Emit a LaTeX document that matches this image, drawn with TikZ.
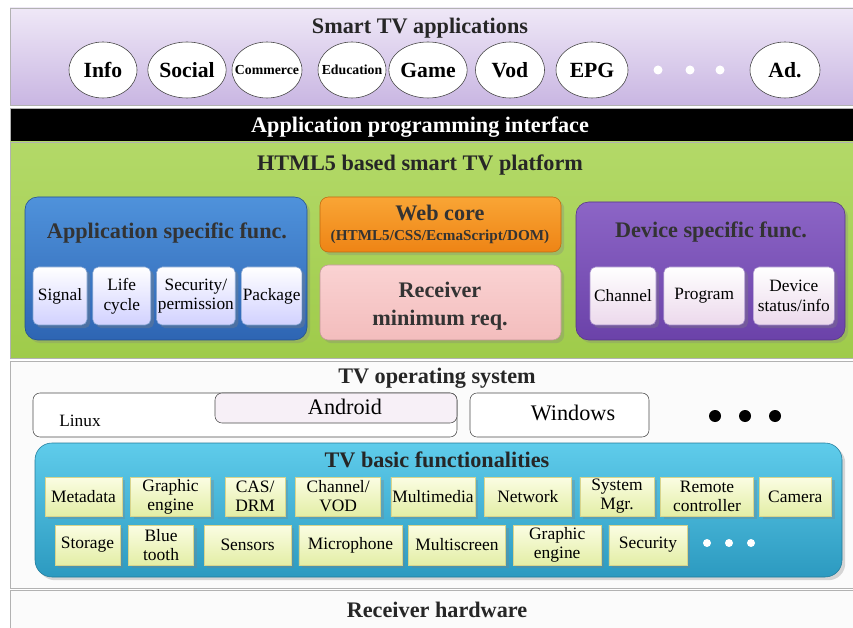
\documentclass[tikz,border=0pt]{standalone}
\usepackage{fontspec}
\setmainfont{Liberation Serif}
\usetikzlibrary{positioning, shapes.geometric, shadows}

\definecolor{appTop}{HTML}{EFE8F7}
\definecolor{appBot}{HTML}{C9B6E2}
\definecolor{platTop}{HTML}{B3D968}
\definecolor{platBot}{HTML}{9FCB4A}
\definecolor{blueTop}{HTML}{4F92DB}
\definecolor{blueBot}{HTML}{2E65B3}
\definecolor{orgTop}{HTML}{F9A535}
\definecolor{orgBot}{HTML}{EE8415}
\definecolor{pinkTop}{HTML}{FAD2D2}
\definecolor{pinkBot}{HTML}{F3BDBD}
\definecolor{violTop}{HTML}{8C65C6}
\definecolor{violBot}{HTML}{6B42A9}
\definecolor{cyanTop}{HTML}{5FCCEB}
\definecolor{cyanBot}{HTML}{2C9AC0}
\definecolor{ylwTop}{HTML}{FBFDE3}
\definecolor{ylwBot}{HTML}{E3EEA6}

\begin{document}
\begin{tikzpicture}[
  x=0.025cm, y=-0.025cm,
  sz/.style 2 args={minimum width=#1*0.025cm, minimum height=#2*0.025cm},
  band/.style={draw=gray!60, rectangle, inner sep=0pt},
  heading/.style={font=\fontsize{15.8}{18}\selectfont\bfseries, text=black!85, align=center},
  app/.style={draw=black!75, ellipse, fill=white, inner sep=0pt,
              font=\fontsize{15.4}{17}\selectfont\bfseries},
  smallapp/.style={app, inner xsep=-7pt, font=\fontsize{9.8}{11}\selectfont\bfseries},
  group/.style={rectangle, rounded corners=9pt, inner sep=0pt},
  subbox/.style={draw=#1, rectangle, rounded corners=4pt, align=center,
                 inner sep=1pt, font=\fontsize{12.3}{14}\selectfont,
                 drop shadow={opacity=0.35}},
  basic/.style={draw=olive!35, rectangle, top color=ylwTop, bottom color=ylwBot,
                align=center, inner sep=1pt, font=\fontsize{12.4}{13.5}\selectfont,
                drop shadow={opacity=0.3}},
  osbox/.style={draw=black!70, rectangle, rounded corners=5pt, inner sep=0pt},
  wdot/.style={circle, fill=white, minimum size=9*0.025cm, inner sep=0pt},
  bdot/.style={circle, fill=black, minimum size=12*0.025cm, inner sep=0pt},
]
  \useasboundingbox (0,0) rectangle (853,628);
  \clip (0,0) rectangle (853,628);

  % applications layer
  \node[band, sz={845}{97}, top color=appTop, bottom color=appBot] (apps) at (432.5,56.5) {};
  \node[heading] (appstitle) at (420,28) {Smart TV applications};
  \node[app, sz={68}{56}] (info) at (103,70) {Info};
  \node[app, sz={63}{56}] (social) at (187,70) {Social};
  \node[smallapp, sz={70}{56}] (commerce) at (267,70) {Commerce};
  \node[smallapp, sz={68}{56}] (education) at (352,70) {Education};
  \node[app, sz={69}{56}] (game) at (428,70) {Game};
  \node[app, sz={69}{56}] (vod) at (510,70) {Vod};
  \node[app, sz={72}{56}] (epg) at (592,70) {EPG};
  \foreach \x [count=\i] in {658,690,720}
    \node[wdot] (adot\i) at (\x,70) {};
  \node[app, sz={70}{56}] (ad) at (785,70) {Ad.};

  % API
  \node[band, sz={845}{34}, fill=black] (api) at (432.5,125) {};
  \node[heading, text=white] (apitext) at (420,127) {Application programming interface};

  % HTML5 platform
  \node[band, sz={845}{216}, top color=platTop, bottom color=platBot] (plat) at (432.5,250) {};
  \node[heading] (plattitle) at (420,165) {HTML5 based smart TV platform};

  \node[group, sz={282}{143}, draw=blueBot!80!black, top color=blueTop, bottom color=blueBot,
        drop shadow={opacity=0.3}] (appfunc) at (166,268.5) {};
  \node[heading, text=black!80] (appfunctitle) at (167,233) {Application specific func.};
  \node[subbox=blueBot!60, top color=white, bottom color=blue!18, sz={54}{58}] (signal) at (60,296) {Signal};
  \node[subbox=blueBot!60, top color=white, bottom color=blue!18, sz={58}{58}, right=0.13cm of signal] (life) {Life\\cycle};
  \node[subbox=blueBot!60, top color=white, bottom color=blue!18, sz={78}{58}, right=0.13cm of life] (secperm) {Security/\\permission};
  \node[subbox=blueBot!60, top color=white, bottom color=blue!18, sz={58}{58}, right=0.14cm of secperm] (package) {Package};

  \node[group, rounded corners=6pt, sz={241}{55}, draw=orgBot!80!black, top color=orgTop, bottom color=orgBot,
        drop shadow={opacity=0.3}] (webcore) at (440.5,224.5) {};
  \node[heading, text=black!80] (webtitle) at (440,213) {Web core};
  \node[font=\fontsize{10.8}{12}\selectfont\bfseries, text=black!80] (websub) at (440,237) {(HTML5/CSS/EcmaScript/DOM)};

  \node[group, rounded corners=6pt, sz={241}{75}, draw=pinkBot!80!black, top color=pinkTop, bottom color=pinkBot,
        drop shadow={opacity=0.3}] (recv) at (440.5,302.5) {};
  \node[heading, text=black!80, font=\fontsize{15.8}{19.5}\selectfont\bfseries] (recvtext) at (440,306) {Receiver\\minimum req.};

  \node[group, sz={269}{138}, draw=violBot!80!black, top color=violTop, bottom color=violBot,
        drop shadow={opacity=0.3}] (devfunc) at (710.5,271) {};
  \node[heading, text=black!80] (devfunctitle) at (711,232) {Device specific func.};
  \node[subbox=violBot!60, top color=white, bottom color=violet!15, sz={66}{58}] (channel) at (623,296) {Channel};
  \node[subbox=violBot!60, top color=white, bottom color=violet!15, sz={81}{58}, right=0.18cm of channel] (program) {Program};
  \node[subbox=violBot!60, top color=white, bottom color=violet!15, sz={81}{58}, right=0.2cm of program] (devstat) {Device\\status/info};

  % TV operating system
  \node[band, sz={845}{227}, fill=gray!3] (os) at (432.5,474.5) {};
  \node[heading] (ostitle) at (437,378) {TV operating system};
  \node[osbox, sz={424}{44}, fill=white] (linux) at (245,415) {};
  \node[font=\fontsize{12.3}{14}\selectfont] (linuxtext) at (80,421) {Linux};
  \node[osbox, sz={242}{30}, fill=violet!6] (android) at (336,408) {};
  \node[font=\fontsize{15.8}{18}\selectfont] (androidtext) at (345,407) {Android};
  \node[osbox, sz={179}{44}, fill=white] (windows) at (559.5,415) {};
  \node[font=\fontsize{15.8}{18}\selectfont] (windowstext) at (573,413) {Windows};
  \foreach \x [count=\i] in {715,745,775}
    \node[bdot] (osdot\i) at (\x,416) {};

  % basic functionalities
  \node[group, rounded corners=12pt, sz={807}{134}, draw=cyanBot!80!black, top color=cyanTop, bottom color=cyanBot,
        drop shadow={opacity=0.3}] (basicfunc) at (438.5,510) {};
  \node[heading] (basictitle) at (437,460) {TV basic functionalities};

  \node[basic, sz={77}{39}] (metadata) at (83.5,496.5) {Metadata};
  \node[basic, sz={80}{39}, right=0.2cm of metadata] (graphic) {Graphic\\engine};
  \node[basic, sz={60}{39}, right=0.35cm of graphic] (cas) {CAS/\\DRM};
  \node[basic, sz={85}{39}, right=0.25cm of cas] (chvod) {Channel/\\VOD};
  \node[basic, sz={84}{39}, right=0.24cm of chvod] (multimedia) {Multimedia};
  \node[basic, sz={87}{39}, right=0.22cm of multimedia] (network) {Network};
  \node[basic, sz={74}{39}, right=0.2cm of network] (sysmgr) {System\\Mgr.};
  \node[basic, sz={93}{39}, right=0.15cm of sysmgr] (remote) {Remote\\controller};
  \node[basic, sz={72}{39}, right=0.13cm of remote] (camera) {Camera};

  \node[basic, sz={65}{40}] (storage) at (87.5,545) {Storage};
  \node[basic, sz={65}{40}, right=0.2cm of storage] (bluetooth) {Blue\\tooth};
  \node[basic, sz={87}{40}, right=0.25cm of bluetooth] (sensors) {Sensors};
  \node[basic, sz={103}{40}, right=0.18cm of sensors] (microphone) {Microphone};
  \node[basic, sz={97}{40}, right=0.15cm of microphone] (multiscreen) {Multiscreen};
  \node[basic, sz={88}{40}, right=0.18cm of multiscreen] (graphic2) {Graphic\\engine};
  \node[basic, sz={78}{40}, right=0.18cm of graphic2] (security) {Security};
  \foreach \x [count=\i] in {707,729,751}
    \node[wdot, minimum size=8*0.025cm] (bdot\i) at (\x,543) {};

  % hardware
  \node[band, sz={845}{50}, fill=gray!3] (hw) at (432.5,615) {};
  \node[heading] (hwtext) at (437,610) {Receiver hardware};
\end{tikzpicture}
\end{document}
